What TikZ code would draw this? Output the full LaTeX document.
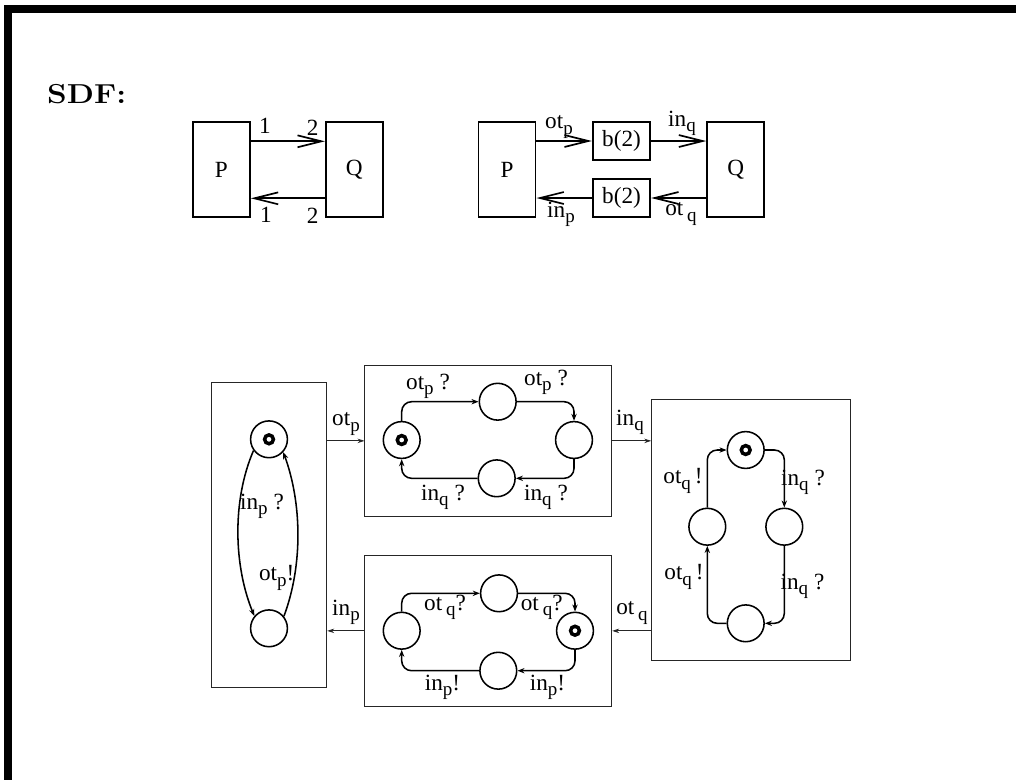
\documentclass[tikz,border=0pt]{standalone}
\usepackage{fontspec}
\usepackage{graphicx}
\newfontfamily\tms{Liberation Serif}
\usetikzlibrary{arrows.meta}
\newcommand\sbs[1]{\raisebox{-0.5ex}{\fontsize{13.5}{13.5}\selectfont #1}}
\begin{document}
\begin{tikzpicture}[x=0.025cm,y=-0.025cm,
  every node/.style={font=\tms\fontsize{16.5}{16.5}\selectfont},
  sdfbox/.style={draw, line width=1.2pt, minimum width=1.43cm, minimum height=2.375cm, inner sep=0pt},
  bufbox/.style={draw, line width=1.2pt, minimum width=1.44cm, minimum height=0.95cm, inner sep=0pt},
  bigarrow/.style={line width=1.2pt, -{Straight Barb[length=17pt,width=8.5pt,line width=1.2pt]}},
  frame/.style={draw, line width=0.7pt, black!85, inner sep=0pt},
  st/.style={draw, circle, line width=1.1pt, minimum size=0.92cm, inner sep=0pt},
  tr/.style={line width=1.1pt, rounded corners=7pt, -{Stealth[length=5pt,width=3.8pt]}},
  link/.style={line width=0.6pt, black!85, -{Stealth[length=5pt,width=3.2pt]}},
  lab/.style={inner sep=0pt},
  bull/.style={line width=2.5pt},
]
\useasboundingbox (0,0) rectangle (1016,779);
% frame border
\draw[line width=0.2cm] (8,800) -- (8,9) -- (1040,9);
\node[font=\fontsize{19.5}{19.5}\selectfont\bfseries, inner sep=0pt] (sdf) at (86.7,94) {\scalebox{1.15}[1]{SDF:}};

% top left SDF
\node[sdfbox] (P1) at (221.35,169.5) {P};
\node[sdfbox] (Q1) at (354.35,169.5) {Q};
\draw[bigarrow] ([yshift=0.705cm]P1.east) -- ([yshift=0.705cm]Q1.west);
\draw[bigarrow] ([yshift=-0.72cm]Q1.west) -- ([yshift=-0.72cm]P1.east);
\node[lab] (l1) at (265,126) {1};
\node[lab] (l2) at (312.7,128) {2};
\node[lab] (l3) at (266,215) {1};
\node[lab] (l4) at (312.7,216) {2};

% top right SDF
\node[sdfbox] (P2) at (507,169.5) {P};
\node[bufbox] (B1) at (621.5,141) {b(2)};
\node[bufbox] (B2) at (621.5,198) {b(2)};
\node[sdfbox] (Q2) at (735.65,169.5) {Q};
\draw[bigarrow] (P2.east |- B1.west) -- (B1.west);
\draw[bigarrow] (B1.east) -- (B1.east -| Q2.west);
\draw[bigarrow] (Q2.west |- B2.east) -- (B2.east);
\draw[bigarrow] (B2.west) -- (B2.west -| P2.east);
\node[lab] (k1) at (559,127) {ot\sbs{p}};
\node[lab] (k2) at (682,123) {in\sbs{q}};
\node[lab] (k3) at (561,214) {in\sbs{p}};
\node[lab] (k4) at (681,214) {ot\,\sbs{q}};

% lower boxes
\node[frame, minimum width=2.875cm, minimum height=7.615cm] (LB) at (269.2,535) {};
\node[frame, minimum width=6.1675cm, minimum height=3.7925cm] (MT) at (488.35,440.85) {};
\node[frame, minimum width=4.975cm, minimum height=6.5cm] (RB) at (751.2,530) {};
\node[frame, minimum width=6.19cm, minimum height=3.79cm] (MB) at (487.85,630.85) {};

% left box
\node[st] (a1) at (269,439.3) {};
\node[st] (a2) at (269,628.3) {};
\draw[bull] (a1) circle[radius=0.11cm];
\draw[tr] (a1.216) .. controls +(-21.6,50) and +(-20.6,-50) .. (a2.140);
\draw[tr] (a2.39) .. controls +(19.4,-51.7) and +(18.4,50) .. (a1.318);
\node[lab] (at1) at (262,506) {in\sbs{p} ?};
\node[lab] (at2) at (276.7,578) {ot\sbs{p}!};

% middle top box
\node[st] (m1) at (401.7,440) {};
\node[st] (m2) at (497.7,401.7) {};
\node[st] (m3) at (574,440) {};
\node[st] (m4) at (496.7,478.3) {};
\draw[bull] (m1) circle[radius=0.11cm];
\draw[tr] (m1.north) |- (m2.west);
\draw[tr] (m2.east) -| (m3.north);
\draw[tr] (m3.south) |- (m4.east);
\draw[tr] (m4.west) -| (m1.south);
\node[lab] (mt1) at (428,386) {ot\sbs{p} ?};
\node[lab] (mt2) at (546,382) {ot\sbs{p} ?};
\node[lab] (mt3) at (443,497) {in\sbs{q} ?};
\node[lab] (mt4) at (546,497) {in\sbs{q} ?};

% right box
\node[st] (r1) at (745.7,450) {};
\node[st] (r2) at (707.3,526.7) {};
\node[st] (r3) at (784.3,526.7) {};
\node[st] (r4) at (745.7,623.3) {};
\draw[bull] (r1) circle[radius=0.11cm];
\draw[tr] (r1.east) -| (r3.north);
\draw[tr] (r3.south) |- (r4.east);
\draw[tr] (r4.west) -| (r2.south);
\draw[tr] (r2.north) |- (r1.west);
\node[lab] (rt1) at (683,481) {ot\sbs{q}\,!};
\node[lab] (rt2) at (803,482) {in\sbs{q} ?};
\node[lab] (rt3) at (684,577) {ot\sbs{q}\,!};
\node[lab] (rt4) at (802.5,586) {in\sbs{q} ?};

% middle bottom box
\node[st] (b1) at (401.7,630.7) {};
\node[st] (b2) at (499,593.3) {};
\node[st] (b3) at (575,630.7) {};
\node[st] (b4) at (498.3,670.7) {};
\draw[bull] (b3) circle[radius=0.11cm];
\draw[tr] (b1.north) |- (b2.west);
\draw[tr] (b2.east) -| (b3.north);
\draw[tr] (b3.south) |- (b4.east);
\draw[tr] (b4.west) -| (b1.south);
\node[lab] (bt1) at (445,607) {ot\,\sbs{q}?};
\node[lab] (bt2) at (541.7,607) {ot\,\sbs{q}?};
\node[lab] (bt3) at (442.5,687) {in\sbs{p}!};
\node[lab] (bt4) at (547.5,687) {in\sbs{p}!};

% connectors between boxes
\draw[link] (LB.east |- MT.west) -- (MT.west);
\draw[link] (MT.east) -- (MT.east -| RB.west);
\draw[link] (MB.east -| RB.west) -- (MB.east);
\draw[link] (MB.west) -- (MB.west -| LB.east);
\node[lab] (c1) at (346,424) {ot\sbs{p}};
\node[lab] (c2) at (630,422) {in\sbs{q}};
\node[lab] (c3) at (632,613) {ot\,\sbs{q}};
\node[lab] (c4) at (346,612) {in\sbs{p}};
\end{tikzpicture}
\end{document}
